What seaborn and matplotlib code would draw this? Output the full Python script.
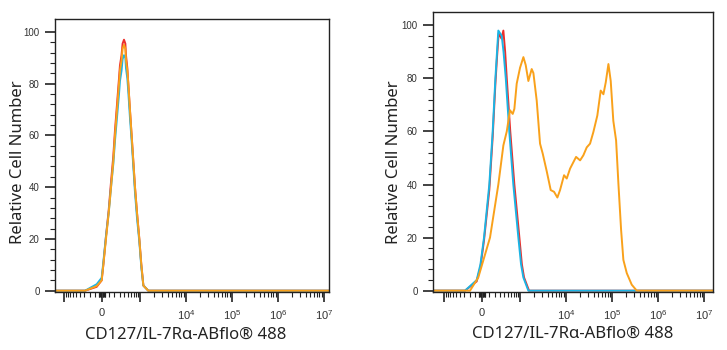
import numpy as np
import pandas as pd
import matplotlib
matplotlib.use("Agg")
import matplotlib.pyplot as plt
import seaborn as sns

# fluorescence intensity (data units) and relative cell number
left_x = [-2000, -287, -81, -5, 20, 60, 102, 140, 179, 209, 247, 287, 307, 342, 367, 401,
          436, 453, 491, 519, 570, 627, 688, 753, 840, 948, 1053, 1170, 1509, 2e7]
left_red = [0, 0, 1.5, 4, 10, 21, 31, 42, 52, 62, 72, 82, 87, 91, 95.5, 97,
            95.5, 91, 86, 80, 70, 60, 50, 40, 30, 20, 10, 2, 0, 0]
left_orange = [0, 0, 1.8, 4, 10, 20, 30, 40, 50, 60, 70, 80, 85, 89, 93.5, 95,
               93.5, 89, 85, 80, 70, 60, 50, 40, 30, 20, 10, 2, 0, 0]
left_cyan = [0, 0, 2.5, 5, 11, 21, 30, 40, 49, 58, 67, 76, 81, 85, 89.5, 91,
             90, 86, 82, 77, 67, 58, 48, 38, 28, 19, 9, 2, 0, 0]

right_red_x = [-2000, -287, -81, -23, 30, 112, 168, 216, 247, 280, 340, 385, 430, 474,
               580, 727, 950, 1080, 1210, 1563, 2e7]
right_red_y = [0, 0, 3.5, 9, 19, 38, 58, 78, 88, 97, 95, 98, 90, 80, 60, 40, 20, 10, 5, 0, 0]

right_cyan_x = [-2000, -287, -81, -23, 30, 112, 168, 216, 247, 273, 346, 389, 447, 549,
                687, 900, 1035, 1167, 1509, 2e7]
right_cyan_y = [0, 0, 4, 10, 20, 40, 60, 80, 90, 98, 96, 90, 80, 60, 40, 20, 10, 5, 0, 0]

right_orange_x = [-2000, -191, -56, 123, 273, 385, 474, 570, 665, 727, 824, 983, 1170, 1319,
                  1510, 1790, 1950, 2306, 2727, 3125, 3815, 4660, 5510, 6510, 7440, 9090,
                  10400, 12300, 16600, 20300, 23900, 28300, 33400, 39400, 48100, 56900,
                  65200, 73300, 83800, 94000, 107000, 123000, 138000, 158000, 177000,
                  210000, 269000, 346000, 2e7]
right_orange_y = [0, 0, 5, 20, 40, 54.75, 60, 68, 66.6, 68.5, 78, 84, 88, 85, 79, 83.5, 82,
                  71.6, 55.4, 51.6, 45, 37.9, 37.25, 35.1, 37.9, 43.5, 42.25, 46, 50.4, 49.1,
                  51, 54, 55.4, 59.75, 66, 75.4, 74, 78.5, 85.4, 79, 64, 56.6, 40.4, 22.9,
                  11.6, 6.6, 2.25, 0, 0]

xtick_vals = [-1000, 0, 1000, 1e4, 1e5, 1e6, 1e7]
xtick_labels = ["", "0", "", "$10^{4}$", "$10^{5}$", "$10^{6}$", "$10^{7}$"]
xlabel = "CD127/IL-7Rα-ABflo® 488"
ylabel = "Relative Cell Number"

colors = {"red": "#ec2f2b", "cyan": "#1bb4e4", "orange": "#f9a11b"}

sns.set_style("ticks")
plt.rcParams["font.family"] = ["Noto Sans", "DejaVu Sans"]
plt.rcParams["mathtext.default"] = "regular"

left_df = pd.concat([
    pd.DataFrame({"x": left_x, "y": left_red, "s": "red"}),
    pd.DataFrame({"x": left_x, "y": left_cyan, "s": "cyan"}),
    pd.DataFrame({"x": left_x, "y": left_orange, "s": "orange"}),
])
right_df = pd.concat([
    pd.DataFrame({"x": right_red_x, "y": right_red_y, "s": "red"}),
    pd.DataFrame({"x": right_cyan_x, "y": right_cyan_y, "s": "cyan"}),
    pd.DataFrame({"x": right_orange_x, "y": right_orange_y, "s": "orange"}),
])

fig = plt.figure(figsize=(7.27, 3.5), dpi=100)
ax1 = fig.add_axes([55/727, 58/350, 274/727, 273/350])
ax2 = fig.add_axes([433/727, 58/350, 280/727, 280/350])

# minor ticks of the biexponential axis
minor = [m * 10**k for k in range(2, 7) for m in range(2, 10)] + [100]
minor += [-m * 100 for m in range(1, 10)]
minor += [s * m * 10 for s in (-1, 1) for m in (1, 2, 3, 4, 5)]

for ax, df, xlim in [(ax1, left_df, (-1563, 1.29e7)), (ax2, right_df, (-1731, 1.57e7))]:
    for s in ["red", "cyan", "orange"]:
        sns.lineplot(data=df[df.s == s], x="x", y="y", color=colors[s], lw=1.4,
                     sort=False, ax=ax)
    ax.set_xscale("asinh", linear_width=300)
    ax.set_xlim(*xlim)
    ax.set_ylim(-0.5, 105)
    ax.set_xticks(xtick_vals)
    ax.set_xticklabels(xtick_labels)
    ax.set_xticks(minor, minor=True)
    ax.set_yticks([0, 20, 40, 60, 80, 100])
    ax.set_yticks(np.arange(0, 101, 4), minor=True)
    ax.tick_params(which="major", length=7, width=1.2, color="#222",
                   labelsize=7, labelcolor="#333", pad=4)
    ax.tick_params(axis="x", which="major", labelsize=8, pad=4.5)
    ax.tick_params(which="minor", length=3.5, width=0.8, color="#222")
    for lab in ax.get_xticklabels() + ax.get_yticklabels():
        lab.set_family(["Liberation Sans", "DejaVu Sans"])
    for sp in ax.spines.values():
        sp.set_visible(True)
        sp.set_color("#222")
        sp.set_linewidth(1.0)
    ax.set_xlabel(xlabel, fontsize=12, color="#222", va="center")
    ax.set_ylabel(ylabel, fontsize=12, color="#222", va="center")

ax1.yaxis.set_label_coords(-0.135, 0.476)
ax1.xaxis.set_label_coords(0.478, -0.155)
ax2.yaxis.set_label_coords(-0.140, 0.464)
ax2.xaxis.set_label_coords(0.498, -0.151)

fig.savefig("out.png", dpi=100)
